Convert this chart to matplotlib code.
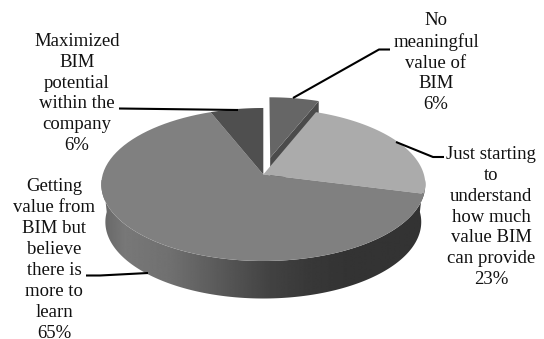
import numpy as np
import matplotlib
matplotlib.use('Agg')
import matplotlib.pyplot as plt
from matplotlib.patches import Polygon

plt.rcParams['font.family'] = ['Liberation Serif', 'DejaVu Serif']

# slices, clockwise from 12 o'clock
labels = ['No\nmeaningful\nvalue of\nBIM',
          'Just starting\nto\nunderstand\nhow much\nvalue BIM\ncan provide',
          'Getting\nvalue from\nBIM but\nbelieve\nthere is\nmore to\nlearn',
          'Maximized\nBIM\npotential\nwithin the\ncompany']
values = [6, 23, 65, 6]

# estilo
top_colors = ['#666666', '#ababab', '#808080', '#4f4f4f']
sliver_color = '#4b4b4b'
label_pos = [(436, 62.5), (491, 217), (54, 260), (77, 93.5)]
leaders = [([390, 379, 293], [49.5, 49.5, 98]),
           ([444, 433, 396], [157, 157, 142]),
           ([86, 100, 148], [275.5, 275.5, 273]),
           ([119, 160, 238], [108.5, 109, 110])]

# tilted disc, the centre of the pie sits above the middle of the ellipse
CX, CY = 263.3, 174.5
A, B, K = 160.6, 75.2, 0.1307
DEPTH = 37.5
LOWER = 0.975
EXPLODE = 0.235
SHRINK = 0.955


def projeta(ux, uy):
    w = 1 + K * uy
    return CX + A * ux / w, CY - B * uy / w


def fatia(t0, t1, escala=1.0, desloc=0.0):
    t = np.radians(np.linspace(t0, t1, 80))
    meio = np.radians((t0 + t1) / 2)
    ux = np.r_[0, escala * np.sin(t)] + desloc * np.sin(meio)
    uy = np.r_[0, escala * np.cos(t)] + desloc * np.cos(meio)
    return projeta(ux, uy)


fig = plt.figure(figsize=(5.44, 3.39), dpi=100)
ax = fig.add_axes([0, 0, 1, 1])
ax.axis('off')

limites = np.r_[0, np.cumsum(values)] * 360 / sum(values)

# side wall: horizontal gradient clipped to the wall outline
t = np.radians(np.linspace(90, 270, 200))
xr, yr = projeta(np.sin(t), np.cos(t))
xb = CX + (xr - CX) * LOWER
yb = yr + DEPTH
stops_x = [101, 125, 170, 220, 270, 310, 350, 425]
stops_c = [0.40, 0.47, 0.44, 0.35, 0.26, 0.22, 0.20, 0.20]
xg = np.linspace(100, 426, 327)
grad = np.interp(xg, stops_x, stops_c)[None, :]
img = ax.imshow(grad, cmap='gray', vmin=0, vmax=1, extent=(100, 426, 300, 180), aspect='auto', zorder=1)
parede = Polygon(np.c_[np.r_[xr, xb[::-1]], np.r_[yr, yb[::-1]]], transform=ax.transData)
img.set_clip_path(parede)

# exploded slice goes under the others, only a sliver of its wall stays visible
xs, ys = fatia(limites[0], limites[1], SHRINK, EXPLODE)
ax.fill([xs[0], xs[-1], xs[-1], xs[0]], [ys[0], ys[-1], ys[-1] + DEPTH, ys[0] + DEPTH],
        color=sliver_color, lw=0, zorder=2)
ax.fill(xs, ys, color=top_colors[0], lw=0, zorder=3)

for i in range(1, len(values)):
    xs, ys = fatia(limites[i], limites[i + 1])
    ax.fill(xs, ys, color=top_colors[i], lw=0, zorder=4)

for (lx, ly) in leaders:
    ax.plot(lx, ly, color='black', lw=1.5, solid_capstyle='butt', zorder=5)

for lab, v, (px, py) in zip(labels, values, label_pos):
    ax.text(px, py, f'{lab}\n{v}%', ha='center', va='center', ma='center',
            fontsize=13.5, linespacing=1.30, color='#111111', zorder=6)

ax.set_xlim(0, 544)
ax.set_ylim(339, 0)

fig.savefig('out.png', dpi=100)
